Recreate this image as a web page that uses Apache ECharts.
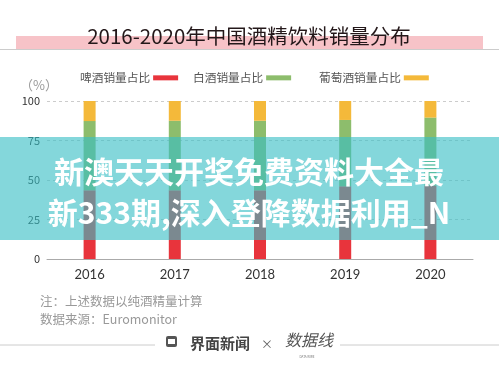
<!DOCTYPE html>
<html><head><meta charset="utf-8">
<script src="https://cdn.jsdelivr.net/npm/echarts@6/dist/echarts.min.js"></script>
<style>html,body{margin:0;padding:0;background:#fff}#c{width:499px;height:379px}</style>
</head><body><div id="c"></div>
<script>
const years = ['2016','2017','2018','2019','2020'];
const beer = [43.5, 43.5, 43.5, 46, 46.5];
const baijiu = [43.8, 44, 44, 42, 43];
const wine = [12.7, 12.5, 12.5, 12, 10.5];
const yTicks = [0, 25, 50, 75, 100];
const seriesNames = ['啤酒销量占比','白酒销量占比','葡萄酒销量占比'];
const colors = ['#e8343c','#8dbd6c','#f4b93a'];

const chart = echarts.init(document.getElementById('c'), null, {renderer:'canvas'});
const F = '"Noto Sans CJK SC","Noto Sans",sans-serif';
function leg(name, left){
  return {data:[name], left:left, top:72, padding:0, align:'right', icon:'rect', itemWidth:25, itemHeight:5,
    symbolKeepAspect:false,
    selectedMode:false, textStyle:{fontSize:11.7, color:'#555', fontFamily:F, padding:[0,-2,0,0]}};
}
chart.setOption({
  animation:false,
  color:colors,
  textStyle:{fontFamily:F},
  legend:[leg(seriesNames[0],80), leg(seriesNames[1],193), leg(seriesNames[2],319)],
  grid:{left:47, right:26, top:101, bottom:120},
  xAxis:{type:'category', data:years,
    axisLine:{lineStyle:{color:'#aaa'}}, axisTick:{show:false},
    axisLabel:{fontSize:13, color:'#333', margin:9, fontFamily:'Lato, "Noto Sans", sans-serif'}},
  yAxis:{type:'value', min:0, max:100, interval:25,
    axisLine:{show:false}, axisTick:{show:false},
    axisLabel:{fontSize:11, color:'#333', margin:7, formatter:v=>yTicks.includes(v)?String(v):''},
    splitLine:{lineStyle:{color:'#ccc', type:[3,3]}}},
  series:[
    {name:seriesNames[0], type:'bar', stack:'a', data:beer, barWidth:12, itemStyle:{color:colors[0]}},
    {name:seriesNames[1], type:'bar', stack:'a', data:baijiu, barWidth:12, itemStyle:{color:colors[1]}},
    {name:seriesNames[2], type:'bar', stack:'a', data:wine, barWidth:12, itemStyle:{color:colors[2]}}
  ],
  graphic:[
    {type:'rect', shape:{x:16,y:36,width:467,height:13}, style:{fill:'#f7c3c8'}, z:0},
    {type:'line', shape:{x1:0,y1:49.5,x2:499,y2:49.5}, style:{stroke:'#ccc', lineWidth:1}, z:1},
    {type:'text', x:249, y:36, style:{text:'2016-2020年中国酒精饮料销量分布', fill:'#24181a', font:'20.5px '+F, textAlign:'center', textVerticalAlign:'middle'}, z:2},
    {type:'text', x:20, y:85, style:{text:'（%）', fill:'#999', font:'13px '+F, textAlign:'left', textVerticalAlign:'middle'}},
    {type:'text', x:40, y:301, style:{text:'注：上述数据以纯酒精量计算', fill:'#999', font:'12.5px '+F, textVerticalAlign:'middle'}},
    {type:'text', x:40, y:319, style:{text:'数据来源：Euromonitor', fill:'#999', font:'12.5px '+F, textVerticalAlign:'middle'}},
    {type:'line', shape:{x1:0,y1:345,x2:155,y2:345}, style:{stroke:'#ccc', lineWidth:1}},
    {type:'line', shape:{x1:340,y1:345,x2:499,y2:345}, style:{stroke:'#ccc', lineWidth:1}},
    {type:'rect', shape:{x:166,y:336,width:11,height:11,r:2}, style:{fill:'#555'}},
    {type:'rect', shape:{x:168,y:339,width:7,height:5}, style:{fill:'#fff'}},
    {type:'text', x:190, y:343, style:{text:'界面新闻', fill:'#444', font:'bold 15px '+F, textVerticalAlign:'middle'}},
    {type:'text', x:267, y:344, style:{text:'×', fill:'#666', font:'12px '+F, textAlign:'center', textVerticalAlign:'middle'}},
    {type:'text', x:285, y:340, style:{text:'数据线', fill:'#555', font:'italic 16px '+F, textVerticalAlign:'middle'}},
    {type:'text', x:307, y:357, style:{text:'DATA WIRE', fill:'#777', font:'3px '+F, textAlign:'center', textVerticalAlign:'middle'}},
    {type:'rect', shape:{x:0,y:137,width:499,height:103}, style:{fill:'rgba(57,191,197,0.62)'}, z:100},
    {type:'text', x:249, y:172, style:{text:'新澳天天开奖免费资料大全最', fill:'#fff', font:'bold 30px '+F, textAlign:'center', textVerticalAlign:'middle'}, z:101},
    {type:'text', x:249, y:213, style:{text:'新333期,深入登降数据利用_N', fill:'#fff', font:'bold 30px '+F, textAlign:'center', textVerticalAlign:'middle'}, z:101}
  ]
});
</script></body></html>
